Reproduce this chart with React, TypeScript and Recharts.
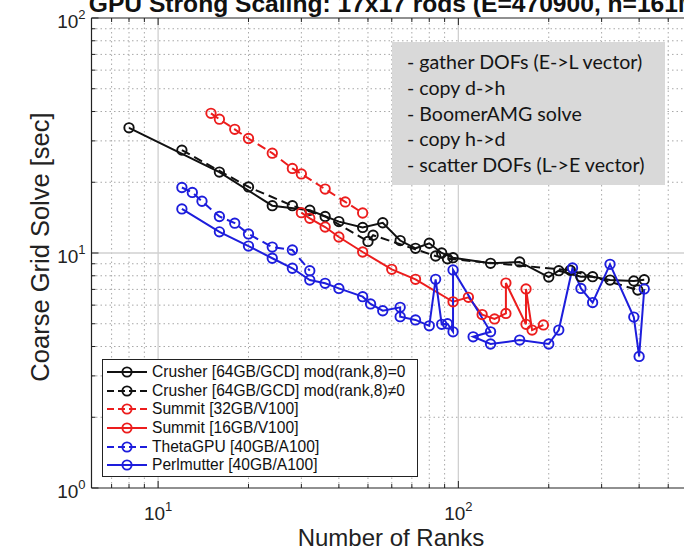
import React from 'react';
import { LineChart, Line, XAxis, YAxis, ReferenceLine } from 'recharts';

// ---------- data ----------
const crusherMod0Ranks = [8, 16, 24, 32, 40, 48, 56, 64, 72, 80, 88, 96, 128, 160, 200, 216, 256, 280, 320, 384, 416];
const crusherMod0Time = [34.1, 22.1, 15.9, 15.2, 13.6, 12.85, 13.45, 11.3, 10.47, 11.0, 10.0, 9.55, 9.04, 9.16, 7.9, 8.41, 7.93, 7.93, 7.67, 7.6, 7.7];

const crusherModNRanks = [12, 20, 28, 36, 50, 52, 84, 92, 236, 396];
const crusherModNTime = [27.4, 19.1, 15.9, 14.3, 11.2, 11.9, 9.71, 9.45, 8.44, 6.96];

const summit32Ranks = [15, 16, 18, 20, 24, 28, 30, 36, 42, 48];
const summit32Time = [39.3, 37.1, 33.6, 30.7, 26.6, 22.9, 21.7, 18.7, 16.5, 14.8];

const summit16Ranks = [30, 32, 36, 40, 48, 60, 72, 96, 108, 120, 132, 144, 144, 168, 168, 176, 192];
const summit16Time = [14.85, 14.05, 12.9, 11.7, 10.1, 8.52, 7.73, 6.2, 6.48, 5.47, 5.24, 5.53, 7.45, 4.97, 7.03, 4.7, 4.94];

const thetaRanks = [12, 13, 14, 16, 18, 20, 24, 28, 32];
const thetaTime = [19.0, 18.1, 16.6, 14.3, 13.4, 12.05, 10.6, 10.3, 8.41];

const perlRanks = [12, 16, 20, 24, 28, 32, 36, 40, 48, 51, 56, 64, 64, 72, 80, 84, 88, 92, 96, 96, 128, 112, 128, 160, 200, 216, 240, 256, 280, 320, 384, 400, 416];
const perlTime = [15.4, 12.3, 10.7, 9.5, 8.61, 7.67, 7.43, 7.07, 6.52, 6.07, 5.68, 5.87, 5.36, 5.19, 4.9, 7.73, 4.97, 5.0, 4.62, 8.47, 4.62, 4.4, 4.1, 4.26, 4.1, 4.7, 8.64, 7.07, 6.15, 8.95, 5.34, 3.63, 7.03];

const xTicks = [7, 8, 9, 10, 20, 30, 40, 50, 60, 70, 80, 90, 100, 200, 300, 400, 500];
const yTicks = [1, 2, 3, 4, 5, 6, 7, 8, 9, 10, 20, 30, 40, 50, 60, 70, 80, 90, 100];
const xMinorGrid = [7, 8, 9, 20, 30, 40, 50, 60, 70, 80, 90, 200, 300, 400, 500];
const xMajorGrid = [10, 100];
const yMinorGrid = [2, 3, 4, 5, 6, 7, 8, 9, 20, 30, 40, 50, 60, 70, 80, 90];
const yMajorGrid = [10];

const titleText = 'GPU Strong Scaling: 17x17 rods (E=470900, n=161M)';
const xLabel = 'Number of Ranks';
const yLabel = 'Coarse Grid Solve [sec]';
const noteLines = [
  '- gather DOFs (E->L vector)',
  '- copy d->h',
  '- BoomerAMG solve',
  '- copy h->d',
  '- scatter DOFs (L->E vector)',
];

const zip = (xs: number[], ys: number[]) => xs.map((x, i) => ({ x, y: ys[i] }));

const BLACK = '#111111';
const RED = '#ec1d1d';
const BLUE = '#1d1ddc';

const series = [
  { name: 'Crusher [64GB/GCD] mod(rank,8)=0', color: BLACK, dashed: false, data: zip(crusherMod0Ranks, crusherMod0Time) },
  { name: 'Crusher [64GB/GCD] mod(rank,8)\u22600', color: BLACK, dashed: true, data: zip(crusherModNRanks, crusherModNTime) },
  { name: 'Summit [32GB/V100]', color: RED, dashed: true, data: zip(summit32Ranks, summit32Time) },
  { name: 'Summit [16GB/V100]', color: RED, dashed: false, data: zip(summit16Ranks, summit16Time) },
  { name: 'ThetaGPU [40GB/A100]', color: BLUE, dashed: true, data: zip(thetaRanks, thetaTime) },
  { name: 'Perlmutter [40GB/A100]', color: BLUE, dashed: false, data: zip(perlRanks, perlTime) },
];

// ---------- layout ----------
const SVG_W = 720;
const SVG_H = 552;
const PLOT_LEFT = 91.5;
const PLOT_RIGHT = 692;
const PLOT_TOP = 18;
const PLOT_BOTTOM = 488;
const XAXIS_H = 30;
const YAXIS_W = 60;
const FONT = '"Liberation Sans", Arial, Helvetica, sans-serif';
const DASH = '9 5';

const isMajor = (v: number) => {
  const e = Math.log10(v);
  return Math.abs(e - Math.round(e)) < 1e-9;
};

const XTick = (props: any) => {
  const { x, payload } = props;
  const v = payload.value;
  const major = isMajor(v);
  const len = major ? 7 : 4;
  return (
    <g>
      <line x1={x} x2={x} y1={PLOT_BOTTOM} y2={PLOT_BOTTOM - len} stroke="#222" strokeWidth={1} />
      <line x1={x} x2={x} y1={PLOT_TOP} y2={PLOT_TOP + len} stroke="#222" strokeWidth={1} />
      {major && (
        <text x={x} y={PLOT_BOTTOM + 32} textAnchor="middle" fontSize={19} fill="#222" fontFamily={FONT}>
          10<tspan dy={-9} fontSize={13}>{Math.round(Math.log10(v))}</tspan>
        </text>
      )}
    </g>
  );
};

const YTick = (props: any) => {
  const { y, payload } = props;
  const v = payload.value;
  const major = isMajor(v);
  const len = major ? 7 : 4;
  return (
    <g>
      <line x1={PLOT_LEFT} x2={PLOT_LEFT + len} y1={y} y2={y} stroke="#222" strokeWidth={1} />
      <line x1={PLOT_RIGHT} x2={PLOT_RIGHT - len} y1={y} y2={y} stroke="#222" strokeWidth={1} />
      {major && (
        <text x={PLOT_LEFT - 6} y={y + 10} textAnchor="end" fontSize={19} fill="#222" fontFamily={FONT}>
          10<tspan dy={-9} fontSize={13}>{Math.round(Math.log10(v))}</tspan>
        </text>
      )}
    </g>
  );
};

const LegendSample = ({ color, dashed }: { color: string; dashed: boolean }) => (
  <svg width={42} height={14} style={{ display: 'block', flex: '0 0 auto' }}>
    <line x1={1} x2={41} y1={7} y2={7} stroke={color} strokeWidth={2} strokeDasharray={dashed ? '7 4' : undefined} />
    <circle cx={21} cy={7} r={4.6} fill="none" stroke={color} strokeWidth={1.9} />
  </svg>
);

export default function App() {
  return (
    <div style={{ position: 'fixed', left: 0, top: 0, width: 684, height: 552, overflow: 'hidden', background: '#fff' }}>
      <div style={{ position: 'absolute', left: 0, top: 0 }}>
        <LineChart
          width={SVG_W}
          height={SVG_H}
          margin={{ top: PLOT_TOP, right: SVG_W - PLOT_RIGHT, bottom: SVG_H - PLOT_BOTTOM - XAXIS_H, left: PLOT_LEFT - YAXIS_W }}
        >
          <XAxis
            dataKey="x"
            type="number"
            scale="log"
            domain={[6, 600]}
            allowDataOverflow
            ticks={xTicks}
            interval={0}
            tick={XTick}
            tickLine={false}
            axisLine={{ stroke: '#222', strokeWidth: 1.2 }}
            height={XAXIS_H}
          />
          <YAxis
            dataKey="y"
            type="number"
            scale="log"
            domain={[1, 100]}
            allowDataOverflow
            ticks={yTicks}
            interval={0}
            tick={YTick}
            tickLine={false}
            axisLine={{ stroke: '#222', strokeWidth: 1.2 }}
            width={YAXIS_W}
          />
          {xMinorGrid.map((v) => (
            <ReferenceLine key={'xm' + v} x={v} stroke="#a8a8a8" strokeWidth={1} strokeDasharray="1.5 3" />
          ))}
          {yMinorGrid.map((v) => (
            <ReferenceLine key={'ym' + v} y={v} stroke="#a8a8a8" strokeWidth={1} strokeDasharray="1.5 3" />
          ))}
          {xMajorGrid.map((v) => (
            <ReferenceLine key={'xM' + v} x={v} stroke="#d0d0d0" strokeWidth={1.3} />
          ))}
          {yMajorGrid.map((v) => (
            <ReferenceLine key={'yM' + v} y={v} stroke="#d0d0d0" strokeWidth={1.3} />
          ))}
          <ReferenceLine y={100} stroke="#222" strokeWidth={1.2} />
          <ReferenceLine x={600} stroke="#222" strokeWidth={1.2} />
          {series.map((s) => (
            <Line
              key={s.name}
              data={s.data}
              dataKey="y"
              name={s.name}
              type="linear"
              stroke={s.color}
              strokeWidth={2}
              strokeDasharray={s.dashed ? DASH : undefined}
              dot={{ r: 4.7, stroke: s.color, strokeWidth: 1.9, fill: 'none', strokeDasharray: '' }}
              activeDot={false}
              isAnimationActive={false}
            />
          ))}
        </LineChart>
      </div>
      <svg width={SVG_W} height={SVG_H} style={{ position: 'absolute', left: 0, top: 0, pointerEvents: 'none' }}>
        <text x={(PLOT_LEFT + PLOT_RIGHT) / 2 + 6} y={11.5} textAnchor="middle" fontSize={24.6} fontWeight="bold" fill="#111" fontFamily={FONT}>
          {titleText}
        </text>
        <text x={391} y={546} textAnchor="middle" fontSize={24} fill="#222" fontFamily={FONT}>
          {xLabel}
        </text>
        <text x={0} y={0} transform={`translate(49, 247) rotate(-90)`} textAnchor="middle" fontSize={25.5} fill="#222" fontFamily={FONT}>
          {yLabel}
        </text>
      </svg>
      <div
        style={{
          position: 'absolute',
          left: 392,
          top: 42,
          width: 273,
          height: 143,
          background: '#d9d9d9',
          boxSizing: 'border-box',
          paddingLeft: 15,
          paddingTop: 7,
          fontFamily: 'Lato, "Open Sans", sans-serif',
          fontSize: 19.6,
          color: '#151515',
          lineHeight: '25.75px',
        }}
      >
        {noteLines.map((t) => (
          <div key={t} style={{ whiteSpace: 'nowrap' }}>{t}</div>
        ))}
      </div>
      <div
        style={{
          position: 'absolute',
          left: 102,
          top: 359,
          width: 316,
          height: 118,
          background: '#fff',
          border: '1.5px solid #222',
          boxSizing: 'border-box',
          paddingTop: 3,
          paddingLeft: 3,
          fontFamily: FONT,
          fontSize: 15.6,
          color: '#111',
        }}
      >
        {series.map((s) => (
          <div key={s.name} style={{ display: 'flex', alignItems: 'center', height: 18.6, whiteSpace: 'nowrap' }}>
            <LegendSample color={s.color} dashed={s.dashed} />
            <span style={{ marginLeft: 4 }}>{s.name}</span>
          </div>
        ))}
      </div>
    </div>
  );
}
